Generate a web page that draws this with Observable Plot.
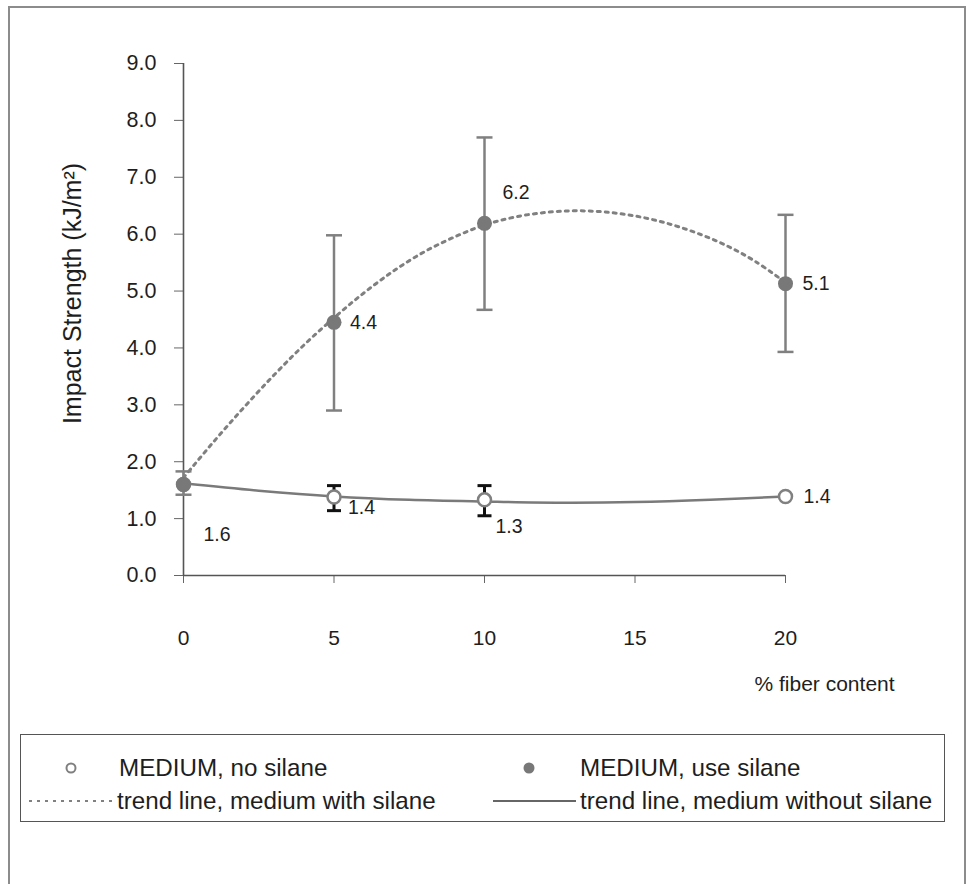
<!DOCTYPE html>
<html>
<head>
<meta charset="utf-8">
<script src="https://cdn.jsdelivr.net/npm/d3@7"></script>
<script src="https://cdn.jsdelivr.net/npm/@observablehq/plot@0.6"></script>
<style>
  body { margin: 0; background: #fff; }
  #wrap { position: relative; width: 970px; height: 884px; overflow: hidden; font-family: "Liberation Sans", Arial, sans-serif; background: #fff; }
  #frame { position: absolute; left: 8px; top: 6px; width: 958px; height: 900px; border: 2px solid #8c8c8c; border-bottom: none; box-sizing: border-box; }
  #chart { position: absolute; left: 0; top: 0; }
  #legend { position: absolute; left: 20px; top: 734px; width: 925px; height: 88px; border: 1.5px solid #555; box-sizing: border-box; }
</style>
</head>
<body>
<div id="wrap">
  <div id="frame"></div>
  <div id="chart"></div>
  <div id="legend"></div>
</div>
<script>
// ---------- data ----------
const fiber = [0, 5, 10, 20];
const noSilane   = [1.6, 1.38, 1.33, 1.39];
const noSilaneLo = [null, 1.14, 1.05, null];
const noSilaneHi = [null, 1.58, 1.58, null];
const noSilaneLabels = ["1.6", "1.4", "1.3", "1.4"];

const useSilane   = [1.6, 4.45, 6.19, 5.13];
const useSilaneLo = [1.42, 2.90, 4.67, 3.93];
const useSilaneHi = [1.83, 5.98, 7.70, 6.34];
const useSilaneLabels = ["", "4.4", "6.2", "5.1"];

const trendSilaneX = [0, 1, 2, 3, 4, 5, 6, 7, 8, 9, 10, 11, 12, 13, 14, 15, 16, 17, 18, 19, 20];
const trendSilaneY = [1.72, 2.35, 2.95, 3.52, 4.05, 4.53, 4.97, 5.36, 5.69, 5.95, 6.16, 6.30, 6.38, 6.41, 6.39, 6.32, 6.20, 6.03, 5.81, 5.52, 5.15];
const trendNoX = [0, 2.5, 5, 7.5, 10, 12.5, 15, 17.5, 20];
const trendNoY = [1.62, 1.49, 1.39, 1.33, 1.30, 1.28, 1.29, 1.33, 1.39];

const xTicks = [0, 5, 10, 15, 20];
const yTicks = [0, 1, 2, 3, 4, 5, 6, 7, 8, 9];
const xLabel = "% fiber content";
const yLabel = "Impact Strength (kJ/m²)";
const legendLabels = ["MEDIUM, no silane", "MEDIUM, use silane", "trend line, medium with silane", "trend line, medium without silane"];

// ---------- tables ----------
const noRows = fiber.map((x, i) => ({x, y: noSilane[i], lo: noSilaneLo[i], hi: noSilaneHi[i], label: noSilaneLabels[i]}));
const useRows = fiber.map((x, i) => ({x, y: useSilane[i], lo: useSilaneLo[i], hi: useSilaneHi[i], label: useSilaneLabels[i]}));
const trendUse = trendSilaneX.map((x, i) => ({x, y: trendSilaneY[i]}));
const trendNo = trendNoX.map((x, i) => ({x, y: trendNoY[i]}));
const noBars = noRows.filter(d => d.lo != null);

const cap = {draw(ctx, size) { const w = Math.sqrt(size / Math.PI); ctx.moveTo(-w, 0); ctx.lineTo(w, 0); }};

const GRAY = "#808080";
const TXT = "#1e1e1e";
const FONT = "'Liberation Sans', Arial, sans-serif";
const H = 705;

function lab(rows, xv, dx, dy, anchor = "start") {
  return Plot.text(rows.filter(d => d.x === xv), {x: "x", y: "y", text: "label", dx, dy, textAnchor: anchor, fontSize: 19.5, fill: TXT});
}

const chart = Plot.plot({
  width: 970,
  height: H,
  marginLeft: 183,
  marginRight: 185,
  marginTop: 63,
  marginBottom: H - 575,
  x: {domain: [0, 20]},
  y: {domain: [0, 9]},
  style: {fontFamily: FONT, color: TXT, background: "transparent", overflow: "visible"},
  marks: [
    Plot.axisY({ticks: yTicks, tickFormat: d => d.toFixed(1), tickSize: 9, tickPadding: 18, fontSize: 21.5, label: null, stroke: "#666"}),
    Plot.axisX({ticks: xTicks, tickSize: 8, tickPadding: 47, fontSize: 21, label: null, stroke: "#666"}),
    Plot.ruleX([0], {y1: 0, y2: 9, stroke: "#555", strokeWidth: 1.6}),
    Plot.ruleY([0], {x1: 0, x2: 20, stroke: "#555", strokeWidth: 1.6}),
    Plot.text([yLabel], {frameAnchor: "left", textAnchor: "middle", lineAnchor: "middle", rotate: -90, dx: -111, dy: -26, fontSize: 25, fill: TXT}),
    Plot.text([xLabel], {frameAnchor: "bottom-left", textAnchor: "start", dx: 754 - 183, dy: 115, fontSize: 21, fill: TXT}),
    // trend lines
    Plot.line(trendUse, {x: "x", y: "y", stroke: GRAY, strokeWidth: 3, strokeDasharray: "3,5", curve: "catmull-rom"}),
    Plot.line(trendNo, {x: "x", y: "y", stroke: "#7a7a7a", strokeWidth: 2.5, curve: "catmull-rom"}),
    // error bars: no silane (black)
    Plot.ruleX(noBars, {x: "x", y1: "lo", y2: "hi", stroke: "#111", strokeWidth: 3}),
    Plot.dot(noBars, {x: "x", y: "lo", symbol: cap, r: 7, stroke: "#111", strokeWidth: 3, fill: "none"}),
    Plot.dot(noBars, {x: "x", y: "hi", symbol: cap, r: 7, stroke: "#111", strokeWidth: 3, fill: "none"}),
    // error bars: use silane (gray)
    Plot.ruleX(useRows, {x: "x", y1: "lo", y2: "hi", stroke: GRAY, strokeWidth: 2.5}),
    Plot.dot(useRows, {x: "x", y: "lo", symbol: cap, r: 8, stroke: GRAY, strokeWidth: 2.5, fill: "none"}),
    Plot.dot(useRows, {x: "x", y: "hi", symbol: cap, r: 8, stroke: GRAY, strokeWidth: 2.5, fill: "none"}),
    // points
    Plot.dot(noRows, {x: "x", y: "y", r: 6.5, stroke: GRAY, strokeWidth: 2.5, fill: "white"}),
    Plot.dot(useRows, {x: "x", y: "y", r: 7.5, fill: "#787878", stroke: "none"}),
    // value labels
    lab(noRows, 0, 20, 50),
    lab(noRows, 5, 14, 11),
    lab(noRows, 10, 11, 27),
    lab(noRows, 20, 18, 0),
    lab(useRows, 5, 16, 0),
    lab(useRows, 10, 18, -31),
    lab(useRows, 20, 17, 0)
  ]
});
document.getElementById("chart").appendChild(chart);

// ---------- legend ----------
const lg = d3.select("#legend").append("svg").attr("width", 922).attr("height", 85)
  .style("font-family", FONT).style("font-size", "24.2px").style("fill", TXT);
const r1 = 33, r2 = 66;
lg.append("circle").attr("cx", 50).attr("cy", r1).attr("r", 4.5).attr("fill", "white").attr("stroke", GRAY).attr("stroke-width", 2);
lg.append("text").attr("x", 98).attr("y", r1).attr("dy", "0.35em").text(legendLabels[0]);
lg.append("circle").attr("cx", 508).attr("cy", r1).attr("r", 5.5).attr("fill", "#787878");
lg.append("text").attr("x", 559).attr("y", r1).attr("dy", "0.35em").text(legendLabels[1]);
lg.append("line").attr("x1", 8).attr("x2", 92).attr("y1", r2).attr("y2", r2).attr("stroke", GRAY).attr("stroke-width", 2).attr("stroke-dasharray", "3,5");
lg.append("text").attr("x", 96).attr("y", r2).attr("dy", "0.35em").text(legendLabels[2]);
lg.append("line").attr("x1", 472).attr("x2", 555).attr("y1", r2).attr("y2", r2).attr("stroke", "#666").attr("stroke-width", 2);
lg.append("text").attr("x", 559).attr("y", r2).attr("dy", "0.35em").text(legendLabels[3]);
</script>
</body>
</html>
